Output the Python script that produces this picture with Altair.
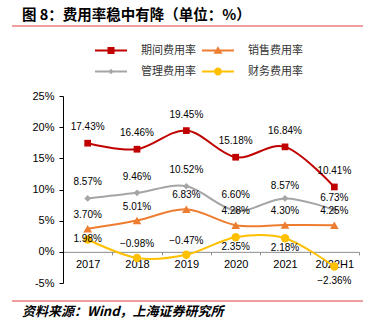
import altair as alt
import pandas as pd

YEARS = ["2017", "2018", "2019", "2020", "2021", "2022H1"]
SERIES = ["期间费用率", "销售费用率", "管理费用率", "财务费用率"]
PERIOD = [17.43, 16.46, 19.45, 15.18, 16.84, 10.41]
SALES = [3.70, 5.01, 6.83, 4.28, 4.30, 4.25]
ADMIN = [8.57, 9.46, 10.52, 6.60, 8.57, 6.73]
FIN = [1.98, -0.98, -0.47, 2.35, 2.18, -2.36]
Y_TICKS = [-5, 0, 5, 10, 15, 20, 25]
TITLE = "图 8：费用率稳中有降（单位：%）"
SOURCE = "资料来源：Wind，上海证券研究所"

COLORS = ["#C00000", "#ED7D31", "#A5A5A5", "#FFC000"]
MARKERS = ["square", "triangle-up", "diamond", "circle"]
MARKER_SIZES = [45, 75, 45, 70]
LEGEND_PATHS = [
    "M-1,-0.06H1V0.06H-1ZM-0.22,-0.22H0.22V0.22H-0.22Z",
    "M-1,-0.06H1V0.06H-1ZM0,-0.27L0.28,0.2H-0.28Z",
    "M-1,-0.06H1V0.06H-1ZM0,-0.17L0.17,0L0,0.17L-0.17,0Z",
    "M-1,-0.06H1V0.06H-1ZM0.25,0A0.25,0.25,0,1,1,-0.25,0A0.25,0.25,0,1,1,0.25,0Z",
]

rows = []
for s, vals in zip(SERIES, [PERIOD, SALES, ADMIN, FIN]):
    for y, v in zip(YEARS, vals):
        rows.append({"year": y, "series": s, "value": v})
df = pd.DataFrame(rows)

W, H = 296, 187
YMIN, YMAX = -5, 25
# distance from the bottom of the plot up to the zero line
ZERO_FROM_BOTTOM = H * (0 - YMIN) / (YMAX - YMIN)

NUM_FONT = "Liberation Sans"
CJK_FONT = "Noto Sans CJK SC"

x_enc = alt.X(
    "year:N",
    sort=YEARS,
    scale=alt.Scale(type="band", domain=YEARS, paddingInner=0, paddingOuter=0),
    axis=alt.Axis(
        title=None, labelAngle=0, tickBand="extent", offset=-ZERO_FROM_BOTTOM,
        domainColor="#8C8C8C", tickColor="#8C8C8C", tickSize=3, labelPadding=4,
        labelFont=NUM_FONT, labelFontSize=11, labelColor="#000000",
    ),
)
y_enc = alt.Y(
    "value:Q",
    scale=alt.Scale(domain=[YMIN, YMAX], nice=False, zero=False),
    axis=alt.Axis(
        title=None, values=Y_TICKS, labelExpr="datum.value + '%'", grid=False,
        tickSize=4, labelPadding=5, domainColor="#000000", tickColor="#000000",
        labelFont=NUM_FONT, labelFontSize=11, labelColor="#000000",
    ),
)
color_scale = alt.Scale(domain=SERIES, range=COLORS)

base = alt.Chart(df)

lines = base.mark_line(interpolate="cardinal", strokeWidth=2).encode(
    x=x_enc, y=y_enc, color=alt.Color("series:N", scale=color_scale, legend=None)
)

point_layers = []
for s, m, sz in zip(SERIES, MARKERS, MARKER_SIZES):
    point_layers.append(
        base.transform_filter(alt.datum.series == s)
        .mark_point(filled=True, opacity=1, shape=m, size=sz)
        .encode(x=x_enc, y=y_enc,
                color=alt.Color("series:N", scale=color_scale, legend=None))
    )

legend = alt.Legend(
    title=None, orient="none", legendX=32, legendY=-61.5, columns=2,
    direction="horizontal",
    symbolSize=1024, symbolStrokeWidth=0, symbolOpacity=1,
    labelFont=CJK_FONT, labelFontSize=11, labelColor="#333333",
    labelOffset=14, columnPadding=6, rowPadding=0, padding=0,
)
legend_layer = base.mark_point(filled=True, opacity=0).encode(
    x=x_enc, y=y_enc,
    color=alt.Color("series:N", scale=color_scale, legend=legend),
    shape=alt.Shape("series:N", scale=alt.Scale(domain=SERIES, range=LEGEND_PATHS), legend=legend),
)

label_text = "format(datum.value, '.2f') + '%'"


def labels(pred, dy):
    return (
        base.transform_filter(pred)
        .transform_calculate(lbl=label_text)
        .mark_text(font=NUM_FONT, fontSize=10, color="#000000", baseline="middle", dy=dy)
        .encode(x=x_enc, y=y_enc, text="lbl:N")
    )


P_S, S_S, A_S, FIN_S = SERIES
lab1 = labels(
    f"datum.series == '{P_S}' || (datum.series == '{A_S}' && datum.year < '2021')", -16
)
lab1b = labels(f"datum.series == '{A_S}' && datum.year >= '2021'", -12)
lab2 = labels(
    f"datum.series == '{S_S}' || (datum.series == '{FIN_S}' && (datum.year == '2018' || datum.year == '2019'))",
    -14,
)
lab3 = labels(f"datum.series == '{FIN_S}' && (datum.year == '2020' || datum.year == '2021')", 10)
lab4 = labels(f"datum.series == '{FIN_S}' && datum.year == '2022H1'", 14)
lab5 = labels(f"datum.series == '{FIN_S}' && datum.year == '2017'", 0)

one = alt.Data(values=[{"k": 0}])
title_mark = alt.Chart(one).mark_text(
    text=TITLE, font=CJK_FONT, fontSize=14.5, fontWeight="bold", align="left",
    baseline="middle", color="#000000",
).encode(x=alt.value(-41), y=alt.value(-80))
source_mark = alt.Chart(one).mark_text(
    text=SOURCE, font=CJK_FONT, fontSize=13, fontWeight="bold", fontStyle="italic",
    align="left", baseline="middle", color="#000000",
).encode(x=alt.value(-41), y=alt.value(215.5))
rule_top = alt.Chart(one).mark_rule(color="#E03C3C", strokeWidth=1).encode(
    x=alt.value(-51), x2=alt.value(300), y=alt.value(-70)
)
rule_bot = alt.Chart(one).mark_rule(color="#E03C3C", strokeWidth=1).encode(
    x=alt.value(-51), x2=alt.value(300), y=alt.value(205)
)

chart = alt.layer(
    rule_top, rule_bot, title_mark, source_mark,
    legend_layer, lines, *point_layers, lab1, lab1b, lab2, lab3, lab4, lab5,
).properties(
    width=W, height=H,
    autosize=alt.AutoSizeParams(type="none"),
    padding={"left": 63, "top": 96, "right": 14, "bottom": 47},
).configure_view(stroke=None)

chart.save("out.html", embed_options={"renderer": "svg", "actions": False})
